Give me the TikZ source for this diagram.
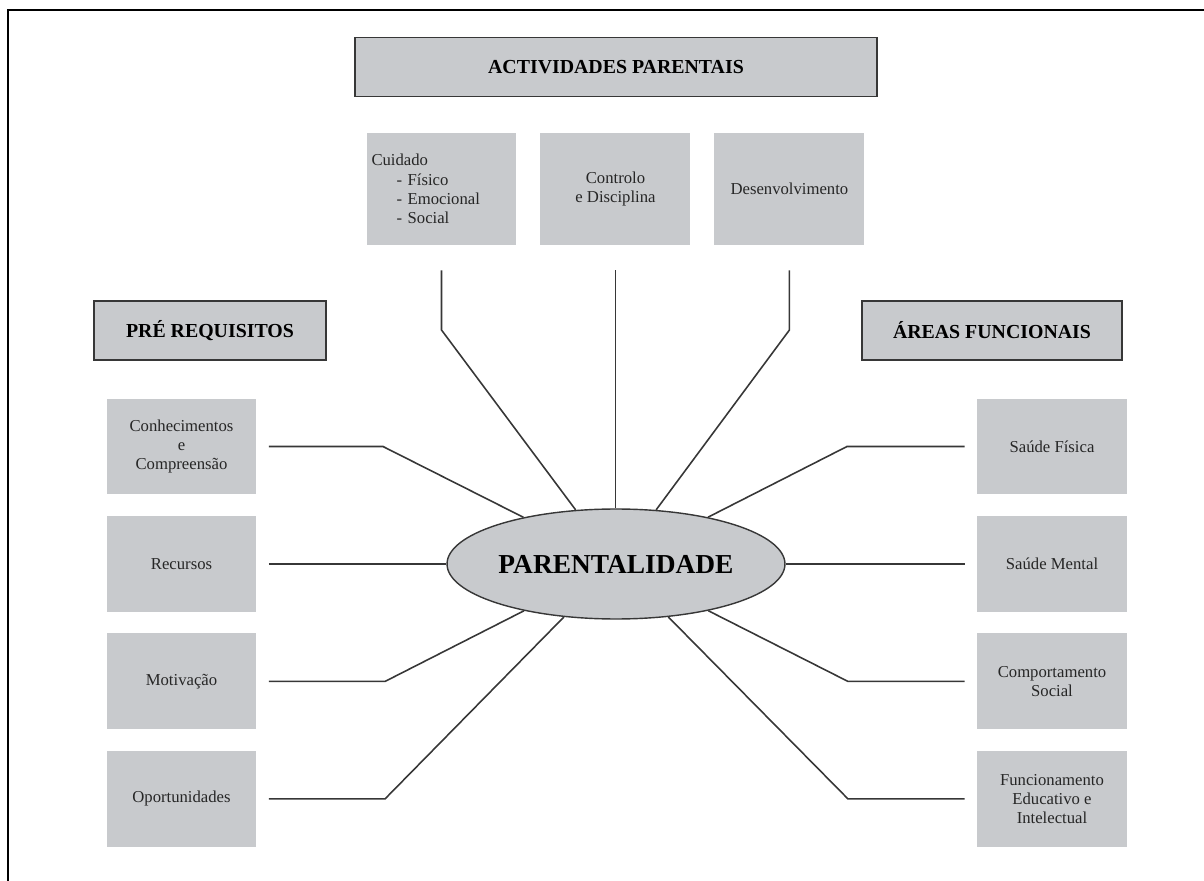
\documentclass[tikz,border=0pt]{standalone}
\usepackage{fontspec}
\setmainfont{Liberation Serif}
\usetikzlibrary{positioning,shapes.geometric}
\definecolor{boxgray}{RGB}{200,202,205}
\definecolor{linegray}{RGB}{55,55,55}

\begin{document}
\begin{tikzpicture}[x=0.02cm,y=-0.02cm,node distance=2.35cm,on grid,
    head/.style={draw=linegray,line width=0.9pt,fill=boxgray,font=\fontsize{11.3}{13}\selectfont\bfseries,minimum height=1.18cm},
    item/.style={fill=boxgray,text=black!85,font=\fontsize{9.5}{11}\selectfont,align=center,minimum width=3cm,minimum height=1.92cm,inner sep=2pt},
    link/.style={draw=linegray,line width=0.9pt,shorten <=0.24cm}]
      \useasboundingbox (0,0) rectangle (1204,881);
      \draw[line width=1.2pt] (8,881) -- (8,10) -- (1204,10);

      \node[head,minimum width=10.44cm] (act) at (616,67) {ACTIVIDADES PARENTAIS};
      \node[head,minimum width=4.64cm] (pre) at (210,330.5) {PRÉ REQUISITOS};
      \node[head,minimum width=5.2cm] (are) at (992,330.5) {ÁREAS FUNCIONAIS};

      \node[item,align=left,text width=2.8cm,inner xsep=0.1cm,minimum height=2.24cm] (cu) at (441.5,189)
        {Cuidado\\\hspace*{0.5cm}- Físico\\\hspace*{0.5cm}- Emocional\\\hspace*{0.5cm}- Social};
      \node[item,minimum height=2.24cm] (co) [right=3.48cm of cu] {Controlo\\e Disciplina};
      \node[item,minimum height=2.24cm] (de) [right=3.48cm of co] {Desenvolvimento};

      \node[item] (kn) at (181.5,446.5) {Conhecimentos\\e\\Compreensão};
      \node[item] (re) [below=of kn] {Recursos};
      \node[item] (mo) [below=of re] {Motivação};
      \node[item] (op) [below=of mo] {Oportunidades};

      \node[item] (sf) at (1052,446.5) {Saúde Física};
      \node[item] (sm) [below=of sf] {Saúde Mental};
      \node[item] (cs) [below=of sm] {Comportamento\\Social};
      \node[item] (fe) [below=of cs] {Funcionamento\\Educativo e\\Intelectual};

      \node[ellipse,draw=linegray,line width=0.8pt,fill=boxgray,minimum width=6.76cm,minimum height=2.2cm,inner sep=0pt,
        font=\fontsize{15.6}{18}\selectfont\bfseries] (par) at (616,564) {PARENTALIDADE};

      % bends of the connectors
      \coordinate (cu-b) at (cu |- 0,330);
      \coordinate (de-b) at (de |- 0,330);
      \coordinate (kn-b) at (383,0 |- kn);
      \coordinate (mo-b) at (385,0 |- mo);
      \coordinate (op-b) at (385,0 |- op);
      \coordinate (sf-b) at (847,0 |- sf);
      \coordinate (cs-b) at (848,0 |- cs);
      \coordinate (fe-b) at (848,0 |- fe);

      \draw[link,shorten <=0.5cm] (cu) -- (cu-b) -- (par);
      \draw[link,shorten <=0.5cm] (co) -- (co |- par.north);
      \draw[link,shorten <=0.5cm] (de) -- (de-b) -- (par);
      \draw[link] (kn) -- (kn-b) -- (par);
      \draw[link] (re) -- (re -| par.west);
      \draw[link] (mo) -- (mo-b) -- (par);
      \draw[link] (op) -- (op-b) -- (par);
      \draw[link] (sf) -- (sf-b) -- (par);
      \draw[link] (sm) -- (sm -| par.east);
      \draw[link] (cs) -- (cs-b) -- (par);
      \draw[link] (fe) -- (fe-b) -- (par);
    \end{tikzpicture}
\end{document}
